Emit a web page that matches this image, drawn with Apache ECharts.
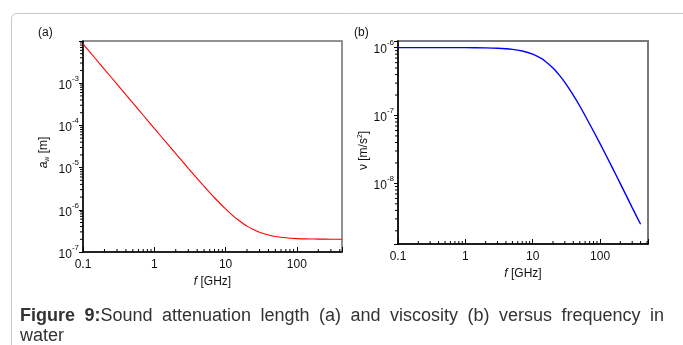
<!DOCTYPE html>
<html><head><meta charset="utf-8">
<script src="https://cdn.jsdelivr.net/npm/echarts@6/dist/echarts.min.js"></script>
<style>html,body{margin:0;padding:0;background:#fff}#c{width:683px;height:345px}</style>
</head><body><div id="c"></div>
<script>
// Panel (a): sound attenuation length vs frequency
const freqA = [0.1, 0.15, 0.2, 0.3, 0.5, 0.7, 1, 1.5, 2, 3, 5, 7, 10, 13, 15, 20, 25, 30, 40, 50, 70, 100, 150, 200, 300, 430];
const attenA = [8.5e-3, 3.8e-3, 2.13e-3, 9.5e-4, 3.4e-4, 1.74e-4, 8.5e-5, 3.8e-5, 2.15e-5, 9.6e-6, 3.6e-6, 1.93e-6, 1.05e-6, 7.0e-7, 5.8e-7, 4.1e-7, 3.36e-7, 2.94e-7, 2.53e-7, 2.34e-7, 2.17e-7, 2.08e-7, 2.04e-7, 2.02e-7, 2.01e-7, 2.0e-7];
// Panel (b): viscosity vs frequency
const freqB = [0.1, 0.3, 1, 2, 3, 5, 7, 10, 13, 15, 20, 25, 30, 40, 50, 70, 100, 150, 200, 300, 400];
const viscB = [1.0e-6, 1.0e-6, 9.98e-7, 9.9e-7, 9.78e-7, 9.41e-7, 8.91e-7, 8.0e-7, 7.03e-7, 6.4e-7, 5.0e-7, 3.9e-7, 3.08e-7, 2.0e-7, 1.38e-7, 7.5e-8, 3.85e-8, 1.75e-8, 9.9e-9, 4.4e-9, 2.5e-9];
// Axis ranges and tick label values
const xRangeA = [0.1, 430];
const yRangeA = [1e-7, 1e-2];
const xRangeB = [0.1, 515];
const yRangeB = [1.28e-9, 1.25e-6];
const mults = [2, 3, 4, 5, 6, 7, 8, 9];
const decadesX = [0.1, 1, 10, 100];
const labelExpYA = [-7, -6, -5, -4, -3];
const labelExpYB = [-8, -7, -6];
const decadesYA = [1e-7, 1e-6, 1e-5, 1e-4, 1e-3];
const decadesYB = [1e-9, 1e-8, 1e-7, 1e-6];
const captionLine1 = ['Figure', '9:|Sound', 'attenuation', 'length', '(a)', 'and', 'viscosity', '(b)', 'versus', 'frequency', 'in'];
const captionLine2 = 'water';

function minorList(decs, range) {
  const out = [];
  decs.forEach(d => mults.forEach(m => {
    const v = d * m;
    if (v > range[0] && v < range[1]) out.push(v);
  }));
  return out;
}

const FONT = 'Liberation Sans, Arial, sans-serif';
function expLabelFor(allowed) {
  return function (v) {
    const e = Math.round(Math.log10(v));
    if (Math.abs(Math.log10(v) - e) > 0.01 || allowed.indexOf(e) < 0) return '';
    return '{b|10}{s|' + e + '}';
  };
}
const expRich = {
  b: {fontSize: 12, fontFamily: FONT, color: '#111', lineHeight: 17, verticalAlign: 'bottom'},
  s: {fontSize: 8, fontFamily: FONT, color: '#111', lineHeight: 17, verticalAlign: 'top'}
};
function xLabel(v) {
  const r = Number(v.toPrecision(3));
  return decadesX.some(d => Math.abs(d - r) < 1e-9) ? String(r) : '';
}

function xAxisCfg(idx, range, gap) {
  return {
    type: 'log', gridIndex: idx, min: range[0], max: range[1], logBase: 10,
    axisLine: {show: true, lineStyle: {color: '#000', width: 1.5}},
    axisTick: {show: true, inside: true, length: 5, lineStyle: {color: '#000', width: 1}},
    splitLine: {show: false},
    axisLabel: {formatter: xLabel, fontSize: 12, fontFamily: FONT, color: '#111', margin: 7},
    name: '{i|f} {n|[GHz]}', nameLocation: 'middle', nameGap: gap,
    nameTextStyle: {fontSize: 12, fontFamily: FONT, color: '#111',
      rich: {i: {fontStyle: 'italic', fontSize: 12, fontFamily: FONT, color: '#111'}, n: {fontSize: 12, fontFamily: FONT, color: '#111'}}}
  };
}
function yAxisCfg(idx, range, allowed, name, gap, rich, shift) {
  return {
    type: 'log', gridIndex: idx, min: range[0], max: range[1], logBase: 10,
    axisLine: {show: true, lineStyle: {color: '#000', width: 1.5}},
    axisTick: {show: true, inside: false, length: 4, lineStyle: {color: '#000', width: 1}},
    splitLine: {show: false},
    axisLabel: {formatter: expLabelFor(allowed), rich: expRich, margin: 4},
    name: name, nameLocation: 'middle', nameGap: gap, nameRotate: 90,
    nameTextStyle: {fontSize: 12, fontFamily: FONT, color: '#111', rich: rich, padding: [0, shift, 0, 0]}
  };
}

function minorSeries(xi, yi, vals, fixed, isX) {
  return {
    type: 'custom', xAxisIndex: xi, yAxisIndex: yi, silent: true, clip: false, z: 5,
    data: vals.map(v => isX ? [v, fixed] : [fixed, v]),
    renderItem: function (params, api) {
      const p = api.coord([api.value(0), api.value(1)]);
      const shape = isX ? {x1: p[0], y1: p[1], x2: p[0], y2: p[1] - 3} : {x1: p[0], y1: p[1], x2: p[0] - 3, y2: p[1]};
      return {type: 'line', shape: shape, style: {stroke: '#000', lineWidth: 1}};
    }
  };
}

// Justified caption layout
const capSize = 18;
const cv = document.createElement('canvas').getContext('2d');
function wReg(t) { cv.font = capSize + 'px "Liberation Sans"'; return cv.measureText(t).width; }
function wBold(t) { cv.font = 'bold ' + capSize + 'px "Liberation Sans"'; return cv.measureText(t).width; }
const capLeft = 20, capRight = 664, capTop = 307;
const units = captionLine1.map((w, i) => {
  if (i === 0) return {text: '{bo|' + w + '}', width: wBold(w)};
  if (w.indexOf('|') >= 0) {
    const [a, b] = w.split('|');
    return {text: '{bo|' + a + '}{r|' + b + '}', width: wBold(a) + wReg(b)};
  }
  return {text: '{r|' + w + '}', width: wReg(w)};
});
const totalW = units.reduce((s, u) => s + u.width, 0);
const gapW = (capRight - capLeft - totalW) / (units.length - 1);
const capRich = {
  bo: {fontWeight: 'bold', fontSize: capSize, fontFamily: FONT, fill: '#333'},
  r: {fontSize: capSize, fontFamily: FONT, fill: '#333'}
};
const capGraphics = [];
let cx = capLeft;
units.forEach(u => {
  capGraphics.push({type: 'text', x: cx, y: capTop, style: {text: u.text, rich: capRich}});
  cx += u.width + gapW;
});
capGraphics.push({type: 'text', x: capLeft, y: capTop + 20, style: {text: '{r|' + captionLine2 + '}', rich: capRich}});

const chart = echarts.init(document.getElementById('c'), null, {renderer: 'canvas'});
const nameRichA = {
  i: {fontStyle: 'italic', fontSize: 12, fontFamily: FONT, color: '#111', lineHeight: 15},
  sub: {fontSize: 7, fontFamily: FONT, color: '#111', verticalAlign: 'bottom', lineHeight: 15},
  n: {fontSize: 12, fontFamily: FONT, color: '#111', lineHeight: 15}
};
const nameRichB = {
  n: {fontSize: 12, fontFamily: FONT, color: '#111', lineHeight: 15},
  sup: {fontSize: 7, fontFamily: FONT, color: '#111', verticalAlign: 'top', lineHeight: 15}
};

chart.setOption({
  animation: false,
  backgroundColor: '#fff',
  grid: [
    {left: 83, top: 41, width: 259, height: 211, show: true, borderColor: '#6e6e6e', borderWidth: 1.5, backgroundColor: 'transparent'},
    {left: 398, top: 41, width: 250, height: 203, show: true, borderColor: '#7a7a7a', borderWidth: 2, backgroundColor: 'transparent'}
  ],
  xAxis: [
    xAxisCfg(0, xRangeA, 19),
    xAxisCfg(1, xRangeB, 24)
  ],
  yAxis: [
    yAxisCfg(0, yRangeA, labelExpYA, '{i|a}{sub|w}{n| [m]}', 32, nameRichA, 12),
    yAxisCfg(1, yRangeB, labelExpYB, '{n|ν [m/s}{sup|2}{n|]}', 26, nameRichB, 16)
  ],
  series: [
    {type: 'line', xAxisIndex: 0, yAxisIndex: 0, data: freqA.map((f, i) => [f, attenA[i]]),
      showSymbol: false, smooth: 0.3, lineStyle: {color: '#ff0000', width: 1.1}, z: 3},
    {type: 'line', xAxisIndex: 1, yAxisIndex: 1, data: freqB.map((f, i) => [f, viscB[i]]),
      showSymbol: false, smooth: 0.3, lineStyle: {color: '#0000ff', width: 1.4}, z: 3},
    minorSeries(0, 0, minorList(decadesX, xRangeA), yRangeA[0], true),
    minorSeries(0, 0, minorList(decadesYA, yRangeA), xRangeA[0], false),
    minorSeries(1, 1, minorList(decadesX, xRangeB), yRangeB[0], true),
    minorSeries(1, 1, minorList(decadesYB, yRangeB), xRangeB[0], false)
  ],
  graphic: [
    {type: 'rect', left: 9, top: 11, z: -1, silent: true,
      shape: {width: 700, height: 360, r: 5}, style: {fill: 'none', stroke: '#c8c8c8', lineWidth: 1}},
    {type: 'text', left: 38, top: 27, style: {text: '(a)', font: '12px ' + FONT, fill: '#111'}},
    {type: 'text', left: 354, top: 27, style: {text: '(b)', font: '12px ' + FONT, fill: '#111'}}
  ].concat(capGraphics)
});
</script></body></html>
